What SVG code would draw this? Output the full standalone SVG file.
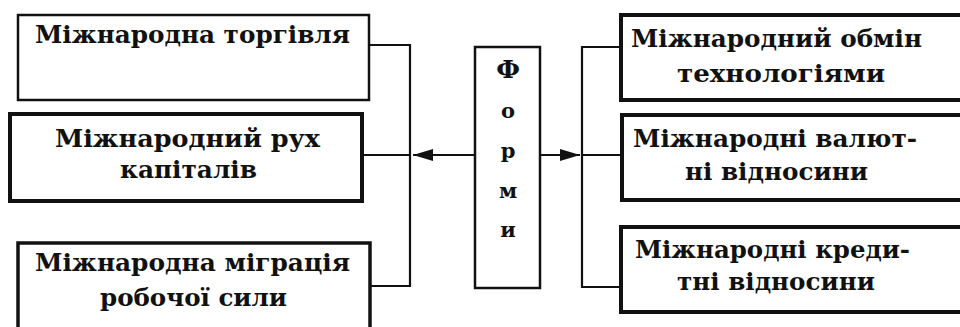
<svg xmlns="http://www.w3.org/2000/svg" width="960" height="327" viewBox="0 0 960 327">
<defs>
<style>
.box{fill:#fff;stroke:#111;}
.t{font-family:"DejaVu Serif","Liberation Serif",serif;font-weight:bold;font-size:25px;fill:#111;}
.f{font-family:"DejaVu Serif","Liberation Serif",serif;font-weight:bold;font-size:21px;fill:#111;text-anchor:middle;}
.c{fill:none;stroke:#111;stroke-width:2.2;}
</style>
<marker id="ah" viewBox="0 0 20 12" refX="20" refY="6" markerWidth="20" markerHeight="12" markerUnits="userSpaceOnUse" orient="auto">
<path d="M0,0 L20,6 L0,12 z" fill="#111"/>
</marker>
</defs>
<rect width="960" height="327" fill="#fff"/>
<g id="connectors">
<polyline class="c" points="369,45 410,45 410,286 370,286"/>
<line class="c" x1="362" y1="155" x2="410" y2="155"/>
<line class="c" x1="475" y1="155" x2="413" y2="155" marker-end="url(#ah)"/>
<polyline class="c" points="621,47 582,47 582,287 621,287"/>
<line class="c" x1="582" y1="155" x2="622" y2="155"/>
<line class="c" x1="540" y1="155" x2="580" y2="155" marker-end="url(#ah)"/>
</g>
<g id="n-torgivlia">
<rect class="box" x="18" y="15" width="351" height="85" stroke-width="2.5"/>
<text class="t" x="35" y="43" textLength="315" lengthAdjust="spacingAndGlyphs">Міжнародна торгівля</text>
</g>
<g id="n-kapital">
<rect class="box" x="10" y="114" width="352" height="87" stroke-width="4"/>
<text class="t" x="55" y="147" textLength="265" lengthAdjust="spacingAndGlyphs">Міжнародний рух</text>
<text class="t" x="120" y="178" textLength="137" lengthAdjust="spacingAndGlyphs">капіталів</text>
</g>
<g id="n-migratsiia">
<rect class="box" x="18" y="243" width="352" height="100" stroke-width="3.5"/>
<text class="t" x="35" y="271" textLength="315" lengthAdjust="spacingAndGlyphs">Міжнародна міграція</text>
<text class="t" x="100" y="306" textLength="187" lengthAdjust="spacingAndGlyphs">робочої сили</text>
</g>
<g id="n-formy">
<rect class="box" x="475" y="47" width="65" height="241" stroke-width="2.5"/>
<text class="f" x="508" y="78" style="font-size:25px">Ф</text>
<text class="f" x="508" y="118">о</text>
<text class="f" x="508" y="158">р</text>
<text class="f" x="508" y="198">м</text>
<text class="f" x="508" y="237">и</text>
</g>
<g id="n-tekhnolohii">
<rect class="box" x="621" y="15" width="360" height="85" stroke-width="4"/>
<text class="t" x="631" y="47" textLength="291" lengthAdjust="spacingAndGlyphs">Міжнародний обмін</text>
<text class="t" x="677" y="82" textLength="208" lengthAdjust="spacingAndGlyphs">технологіями</text>
</g>
<g id="n-valiutni">
<rect class="box" x="622" y="115" width="360" height="85" stroke-width="4"/>
<text class="t" x="633" y="147" textLength="284" lengthAdjust="spacingAndGlyphs">Міжнародні валют-</text>
<text class="t" x="685" y="180" textLength="183" lengthAdjust="spacingAndGlyphs">ні відносини</text>
</g>
<g id="n-kredytni">
<rect class="box" x="621" y="227" width="360" height="85" stroke-width="4"/>
<text class="t" x="635" y="258" textLength="275" lengthAdjust="spacingAndGlyphs">Міжнародні креди-</text>
<text class="t" x="677" y="290" textLength="198" lengthAdjust="spacingAndGlyphs">тні відносини</text>
</g>
</svg>
